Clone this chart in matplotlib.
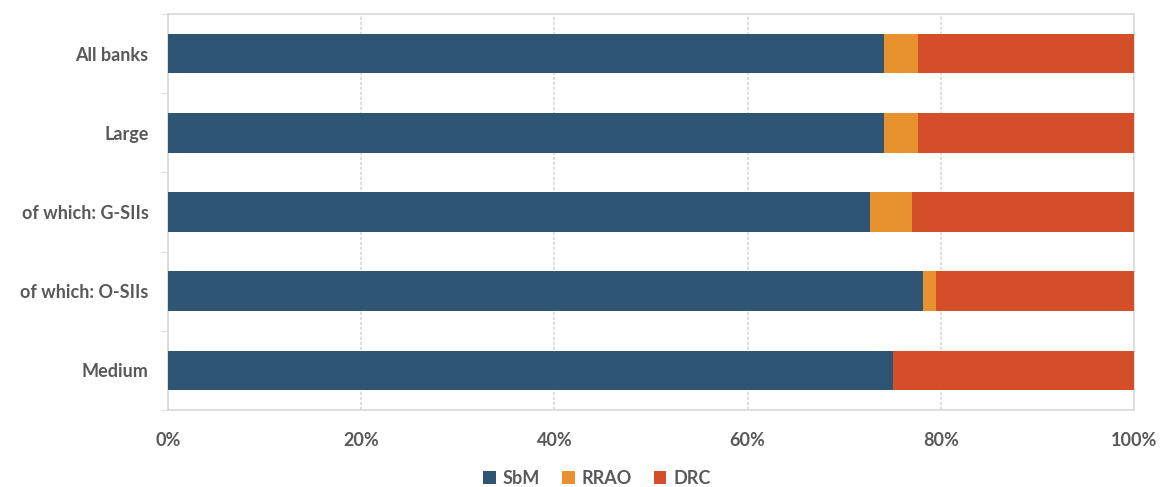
import matplotlib.pyplot as plt
from matplotlib.ticker import PercentFormatter

categories = ["All banks", "Large", "of which: G-SIIs", "of which: O-SIIs", "Medium"]
sbm = [74.1, 74.1, 72.7, 78.2, 75.1]
rrao = [3.5, 3.5, 4.3, 1.3, 0.0]
drc = [22.4, 22.4, 23.0, 20.5, 24.9]

colors = {"SbM": "#2E5573", "RRAO": "#E8912F", "DRC": "#D34E29"}
text_color = "#595959"
grid_color = "#D9D9D9"

plt.rcParams["font.family"] = ["Lato", "DejaVu Sans"]

fig = plt.figure(figsize=(11.6, 4.87), dpi=100)
ax = fig.add_axes([168 / 1160, 77 / 487, (1134 - 168) / 1160, (410 - 14) / 487])

y = list(range(len(categories)))
left = [0.0] * len(categories)
for name, vals in [("SbM", sbm), ("RRAO", rrao), ("DRC", drc)]:
    ax.barh(y, vals, left=left, height=0.5, color=colors[name], label=name, zorder=3)
    left = [a + b for a, b in zip(left, vals)]

ax.set_xlim(0, 100)
ax.set_ylim(len(categories) - 0.5, -0.5)
ax.xaxis.set_major_formatter(PercentFormatter(decimals=0))
ax.set_xticks([0, 20, 40, 60, 80, 100])
ax.set_yticks(y)
ax.set_yticklabels(categories)
ax.set_yticks([i + 0.5 for i in range(-1, len(categories))], minor=True)

ax.grid(axis="x", color=grid_color, linestyle=(0, (2, 1)), linewidth=1.2, zorder=0)
for s in ax.spines.values():
    s.set_color(grid_color)
    s.set_linewidth(1.2)
    s.set_linestyle((0, (2, 1)))

ax.tick_params(axis="y", which="major", length=0, pad=14, labelsize=13, labelcolor=text_color)
ax.tick_params(axis="y", which="minor", length=5, color=grid_color)
ax.tick_params(axis="x", length=0, pad=16, labelsize=13, labelcolor=text_color)
for lab in ax.get_yticklabels() + ax.get_xticklabels():
    lab.set_fontweight("bold")

leg = fig.legend(loc="center", bbox_to_anchor=(597 / 1160, 1 - 478 / 487), ncol=3,
                 frameon=False, fontsize=13, handlelength=0.7, handleheight=0.7,
                 handletextpad=0.4, columnspacing=1.2, borderpad=0)
for t in leg.get_texts():
    t.set_color(text_color)
    t.set_fontweight("bold")

fig.savefig("out.png", dpi=100)
